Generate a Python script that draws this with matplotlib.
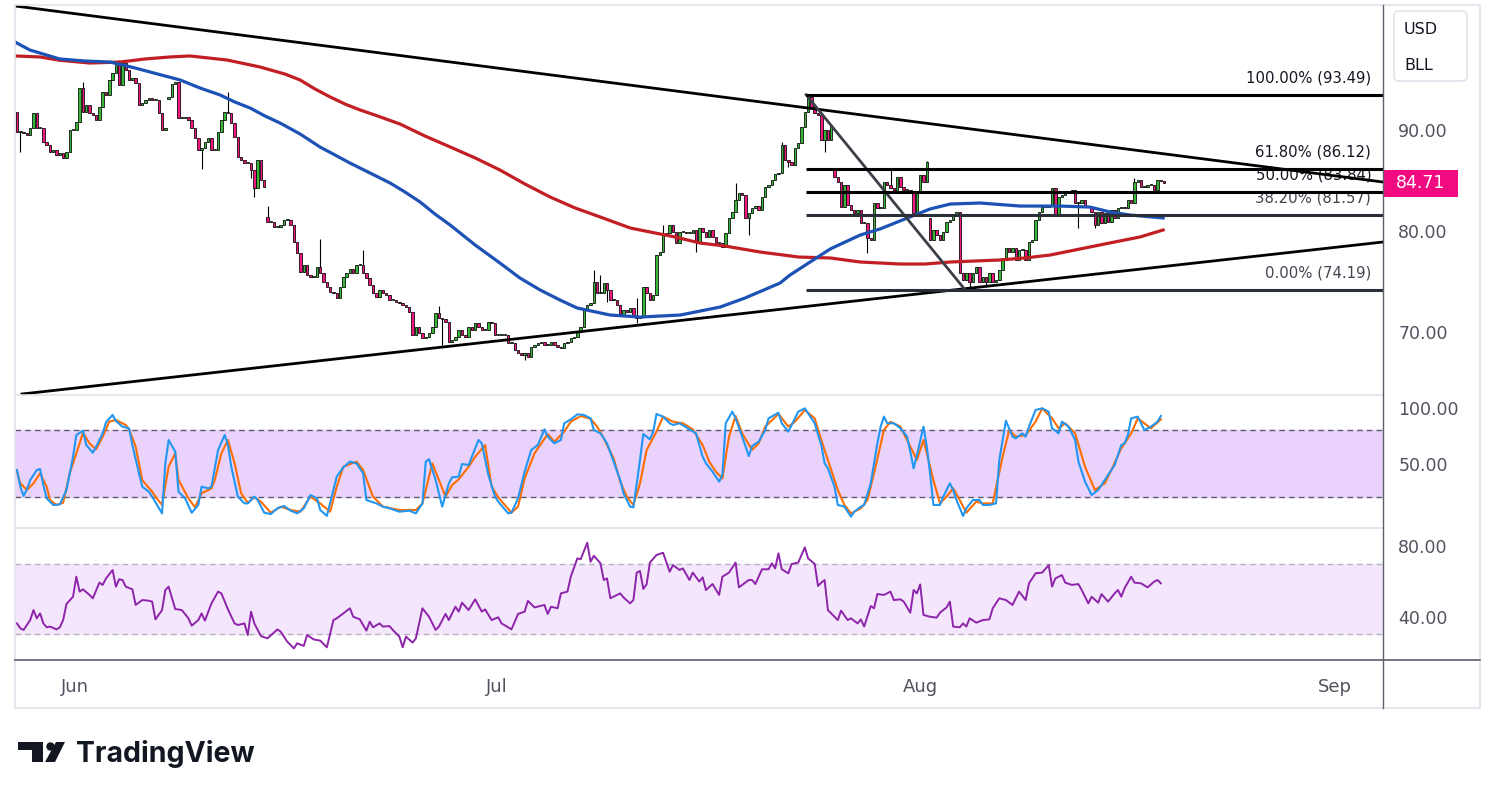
import matplotlib
matplotlib.use("Agg")
import matplotlib.pyplot as plt
import matplotlib.transforms as mtransforms
from matplotlib.patches import Rectangle, FancyBboxPatch, Polygon, Circle
import numpy as np

W, H = 1491, 799

# hourly closes (left to right)
closes = [
    89.80, 89.80, 89.70, 89.50, 90.20, 91.68, 90.20, 90.20, 88.81, 88.52,
    87.82, 88.02, 87.53, 87.72, 87.23, 87.82, 90.00, 90.00, 90.79, 94.16,
    91.78, 92.47, 91.68, 91.49, 90.99, 92.28, 93.76, 93.47, 94.95, 95.64,
    96.73, 94.46, 96.63, 95.94, 94.95, 95.15, 94.65, 92.47, 92.67, 92.97,
    93.17, 92.97, 92.97, 91.68, 90.00, 90.20, 93.27, 94.55, 94.75, 91.19,
    91.19, 91.29, 90.99, 90.20, 89.21, 88.02, 88.22, 88.81, 89.21, 88.02,
    88.02, 89.80, 90.99, 91.78, 91.68, 90.69, 89.31, 87.33, 87.03, 86.73,
    86.73, 86.04, 84.26, 87.03, 85.05, 84.36, 80.89, 80.89, 80.40, 80.40,
    80.60, 81.09, 81.09, 80.60, 78.91, 77.82, 75.94, 76.64, 75.65, 75.45,
    75.45, 76.44, 75.84, 74.95, 74.46, 73.96, 73.86, 73.37, 74.46, 75.45,
    75.84, 76.24, 75.84, 76.64, 76.64, 75.84, 75.35, 74.66, 73.86, 73.47,
    74.16, 73.86, 73.67, 73.17, 73.17, 72.97, 72.87, 72.68, 72.48, 71.99,
    69.71, 70.50, 69.90, 69.41, 69.51, 69.90, 70.50, 71.89, 71.39, 71.29,
    71.00, 69.01, 69.21, 69.51, 70.20, 69.71, 69.51, 70.50, 70.20, 70.89,
    70.50, 70.20, 70.20, 71.00, 70.89, 69.71, 69.71, 69.71, 69.71, 68.91,
    68.91, 68.22, 67.92, 67.73, 67.92, 67.53, 68.52, 68.72, 68.91, 69.01,
    68.72, 68.72, 69.01, 68.72, 68.52, 68.42, 68.91, 69.01, 69.41, 69.51,
    70.00, 70.50, 72.18, 72.68, 72.87, 74.95, 73.86, 73.86, 74.85, 74.16,
    73.17, 73.17, 72.68, 71.69, 72.18, 71.99, 72.38, 71.49, 71.39, 71.59,
    74.46, 73.86, 73.17, 73.67, 77.63, 77.92, 79.61, 79.80, 80.60, 79.90,
    78.81, 79.90, 79.90, 79.80, 79.80, 80.10, 78.91, 80.30, 79.90, 79.41,
    80.10, 79.41, 78.81, 78.81, 78.42, 79.80, 81.29, 81.88, 83.07, 83.76,
    83.57, 81.29, 81.78, 82.28, 82.48, 82.08, 83.37, 84.36, 84.56, 85.05,
    85.64, 85.74, 88.52, 87.03, 86.83, 86.54, 88.22, 88.71, 90.30, 91.78,
    93.27, 92.28, 91.68, 91.49, 89.01, 90.00, 89.01, 90.50, 85.35, 84.85,
    82.38, 84.56, 82.57, 82.08, 81.78, 82.08, 80.79, 80.79, 79.31, 79.11,
    82.77, 82.28, 82.28, 84.85, 84.56, 84.26, 83.86, 85.35, 84.36, 84.06,
    84.06, 83.86, 81.78, 83.76, 85.55, 84.85, 86.83, 79.11, 80.10, 79.61,
    79.11, 79.90, 80.89, 81.09, 81.59, 81.88, 75.84, 75.15, 75.84, 74.95,
    75.84, 76.44, 74.95, 75.45, 74.95, 75.84, 74.95, 75.15, 76.14, 77.33,
    78.32, 77.92, 78.32, 77.13, 78.12, 78.12, 77.13, 78.91, 79.11, 81.09,
    81.88, 82.38, 82.38, 82.57, 84.26, 81.59, 83.37, 83.57, 83.86, 83.86,
    84.06, 82.77, 82.77, 83.07, 82.38, 82.38, 81.88, 80.60, 81.88, 80.79,
    81.78, 80.89, 82.08, 81.29, 82.28, 82.38, 82.28, 83.07, 82.77, 84.85,
    85.05, 84.36, 84.36, 84.56, 84.56, 84.06, 85.05, 84.95, 84.71,
]
first_open = 91.78
gap_opens = {46: 93.07, 76: 81.39, 248: 86.04, 277: 81.29}
wick_highs = {20: 94.75, 31: 96.93, 64: 93.76, 76: 82.48, 92: 79.21, 105: 78.12,
              128: 72.58, 175: 76.14, 177: 75.65, 188: 73.37, 196: 80.60,
              218: 84.75, 232: 88.81, 240: 93.49, 265: 86.04, 276: 86.93,
              339: 85.25}
wick_lows = {1: 87.82, 56: 86.14, 71: 85.25, 72: 83.37, 129: 68.72, 154: 67.23,
             179: 72.97, 188: 70.89, 206: 77.92, 222: 79.61, 234: 86.34,
             245: 87.82, 250: 83.27, 258: 77.82, 289: 74.19, 294: 74.46,
             322: 80.30, 327: 80.30}

# moving averages (bar index, price)
blue_ma = [(-0.6, 98.71), (3.9, 97.92), (13, 97.03), (20.6, 96.83), (28.2, 96.73),
           (35.8, 96.14), (40.4, 95.74), (49.5, 94.95), (55.5, 94.16), (61.6, 93.47),
           (66.1, 92.77), (70.7, 92.18), (75.2, 91.39), (79.8, 90.69), (85.9, 89.60),
           (91.9, 88.32), (96.5, 87.52), (101, 86.73), (107.1, 85.74), (113.2, 84.75),
           (117.7, 83.86), (122.3, 82.87), (126.8, 81.68), (131.4, 80.59), (139, 78.61),
           (146.5, 76.83), (152.6, 75.34), (158.7, 74.16), (164.7, 73.17), (169.9, 72.38),
           (179.9, 71.68), (189, 71.48), (201.2, 71.68), (213.3, 72.47), (220.9, 73.37),
           (231.5, 74.85), (234.5, 75.64), (240.6, 76.93), (246.7, 78.22), (255.8, 79.60),
           (261.8, 80.20), (270.9, 81.39), (277, 82.18), (283.1, 82.67), (292.2, 82.77),
           (304.3, 82.47), (316.4, 82.47), (325.5, 82.37), (331.6, 81.88), (337.7, 81.58),
           (347.7, 81.29)]
red_ma = [(-0.6, 97.33), (7, 97.23), (13, 96.90), (22.1, 96.63), (31.3, 96.73),
          (38.8, 97.03), (46.4, 97.23), (52.5, 97.33), (63.7, 96.93), (73.7, 96.24),
          (81.3, 95.54), (85.9, 94.95), (90.4, 94.06), (95, 93.27), (99.5, 92.57),
          (104.1, 91.98), (108.6, 91.48), (116.2, 90.59), (123.8, 89.40), (131.4, 88.32),
          (139, 87.23), (146.5, 86.04), (154.1, 84.65), (161.7, 83.37), (169.3, 82.28),
          (176.9, 81.39), (186, 80.30), (192.1, 79.90), (199.6, 79.41), (207.2, 78.81),
          (214.8, 78.51), (225.4, 77.92), (237.2, 77.42), (246.7, 77.33), (255.8, 76.93),
          (267.9, 76.73), (275.5, 76.73), (283.1, 76.93), (290.7, 77.03), (298.2, 77.13),
          (305.8, 77.33), (313.4, 77.62), (322.5, 78.22), (331.6, 78.82), (340.7, 79.41),
          (347.7, 80.10)]

# stochastic %K / %D and RSI (bar index, value)
stoch_k = [(0, 44.3), (1, 29.5), (2, 21.2), (3, 27.1), (4, 35.4), (6, 44.3), (7, 45.2), (8, 31),
           (9, 19.1), (11, 13.2), (13, 13.7), (15, 26.5), (17, 56.2), (18, 75.5), (20, 79.4),
           (21, 66.6), (23, 59.8), (24, 65.1), (26, 77), (27, 86.8), (29, 93.4), (30, 88),
           (32, 83), (34, 81.5), (35, 66.6), (37, 41.4), (38, 29.5), (40, 25), (41, 20.6),
           (44, 5.7), (45, 50.3), (46, 71.1), (48, 60.7), (49, 25), (51, 19.1), (53, 6.3),
           (55, 13.2), (56, 29.5), (58, 28), (59, 29.5), (61, 62.2), (63, 75.5), (64, 66.6),
           (65, 47.3), (67, 20.6), (69, 14.6), (70, 14.6), (72, 20.6), (73, 17.6), (75, 6.3),
           (77, 5.1), (79, 10.2), (81, 12.3), (83, 8.1), (85, 5.7), (87, 10.2), (89, 22),
           (91, 19.1), (92, 8.7), (94, 3.4), (96, 26.5), (97, 38.4), (99, 46.7), (101, 51.8),
           (103, 50.3), (105, 41.4), (106, 17.6), (109, 14.6), (111, 11.7), (113, 10.2),
           (116, 7.2), (119, 8.1), (121, 5.7), (123, 14.6), (124, 51.8), (125, 53.9),
           (127, 35.4), (129, 11.7), (131, 32.5), (132, 37.8), (134, 38.4), (135, 49.7),
           (137, 48.8), (138, 56.2), (140, 71.1), (141, 68.1), (143, 39.9), (145, 20.6),
           (146, 16.1), (149, 5.7), (150, 6.3), (152, 19.1), (154, 42.9), (156, 62.2),
           (158, 66.6), (160, 80.6), (161, 74.1), (163, 68.1), (165, 71.1), (166, 86),
           (168, 89.5), (170, 94), (172, 93.4), (174, 90.4), (175, 80), (177, 77), (179, 68.1),
           (181, 51.8), (183, 35.4), (184, 23.6), (186, 11.7), (187, 11.1), (189, 53.3),
           (190, 76.4), (192, 71.7), (193, 78.5), (194, 94.3), (196, 91.9), (198, 86),
           (199, 84.5), (201, 86), (203, 82.4), (206, 77), (208, 56.2), (209, 50.3),
           (211, 42.9), (213, 34), (214, 39.9), (215, 86), (217, 96.3), (218, 90.4),
           (220, 74.1), (222, 56.8), (223, 65.7), (225, 69.6), (227, 80), (228, 90.4),
           (231, 95.4), (232, 86), (234, 78.5), (235, 84.5), (237, 96.3), (239, 99.3),
           (240, 94.9), (242, 86), (244, 66.6), (245, 50.3), (246, 45.8), (248, 29.5),
           (249, 13.2), (251, 11.7), (253, 2.8), (254, 7.2), (256, 11.7), (257, 13.2),
           (259, 32.5), (261, 68.1), (262, 83), (263, 91.9), (264, 86), (266, 86),
           (268, 81.5), (270, 74.1), (271, 60.7), (272, 45.8), (273, 57.7), (275, 83),
           (276, 65.1), (277, 41.4), (278, 13.2), (280, 13.2), (281, 20.6), (283, 32.5),
           (284, 26.5), (285, 17.6), (287, 3.4), (288, 10.2), (290, 17.6), (292, 17.6),
           (293, 13.2), (295, 13.2), (297, 14.6), (298, 53.3), (300, 88.3), (302, 74.1),
           (303, 72.6), (305, 77), (306, 74.1), (307, 83), (309, 97.8), (311, 99.3),
           (313, 96.3), (314, 81.5), (316, 77), (317, 87.4), (319, 83), (321, 71.1),
           (322, 51.8), (324, 34), (326, 22.1), (328, 26.5), (329, 31), (331, 39.9),
           (333, 48.8), (335, 66.6), (336, 68.1), (337, 75.5), (338, 90.4), (340, 91.9),
           (342, 80), (344, 83), (346, 87.4), (347, 92.5)]
stoch_d = [(0, 42.9), (1, 32.5), (3, 26.5), (5, 32.5), (7, 41.4), (9, 29.5), (10, 17.6),
           (12, 13.2), (14, 15.2), (16, 41.4), (19, 68.1), (20, 77.6), (22, 68.1), (24, 62.8),
           (26, 74.1), (28, 87.4), (30, 88.9), (33, 84.5), (34, 80.6), (36, 65.1), (38, 35.4),
           (41, 25), (42, 20.6), (44, 13.2), (46, 47.3), (48, 59.2), (49, 35.4), (52, 19.1),
           (54, 11.1), (56, 23.6), (59, 28), (60, 35.4), (62, 59.2), (64, 71.1), (66, 50.3),
           (68, 23.6), (70, 15.2), (72, 20), (74, 16.1), (77, 6.3), (80, 11.7), (83, 8.7),
           (86, 7.2), (89, 20.6), (92, 14.6), (95, 7.2), (97, 29.5), (99, 47.3), (103, 51.8),
           (105, 44.3), (108, 20.6), (111, 11.7), (116, 8.7), (121, 8.7), (123, 14.6),
           (126, 50.3), (128, 35.4), (130, 20.6), (132, 31), (134, 36), (137, 47.3),
           (139, 56.2), (142, 66.6), (144, 29.5), (146, 20), (150, 6.3), (152, 11.7),
           (154, 36.9), (157, 59.2), (161, 76.4), (163, 69.6), (166, 78.5), (168, 87.4),
           (171, 92.5), (174, 90), (176, 83), (178, 72.6), (181, 54.7), (183, 34), (185, 20.6),
           (187, 13.2), (189, 32.5), (191, 62.2), (194, 78.5), (196, 91.9), (199, 87.4),
           (202, 86), (205, 80.6), (208, 66.6), (210, 51.8), (212, 42.9), (214, 36.9),
           (216, 74.1), (218, 92.5), (220, 77), (223, 62.2), (225, 68.1), (227, 83),
           (231, 94.3), (234, 83), (236, 87.4), (239, 97.8), (242, 90.4), (244, 71.1),
           (246, 53.3), (249, 26.5), (251, 13.2), (253, 5.7), (256, 10.2), (258, 17.6),
           (260, 41.4), (263, 80), (265, 87.4), (268, 83), (270, 71.1), (273, 53.3),
           (275, 71.1), (278, 35.4), (280, 14.6), (282, 20.6), (284, 28), (286, 17.6),
           (288, 6.3), (291, 16.1), (293, 14.6), (296, 14.6), (299, 56.2), (301, 80),
           (303, 74.1), (306, 75.5), (309, 87.4), (311, 99.3), (314, 90.4), (316, 81.5),
           (318, 86), (321, 77), (324, 47.3), (327, 26.5), (330, 32.5), (332, 44.3),
           (335, 63.7), (338, 77), (340, 90.4), (344, 81.5), (347, 89.5)]
rsi = [(0, 36.2), (1, 33.4), (2, 32.5), (4, 38.1), (5, 43.8), (6, 39.1), (7, 41.9), (8, 36.2),
       (9, 34), (10, 34.4), (12, 32.8), (13, 34), (14, 38.1), (15, 47.2), (17, 51.4), (18, 62.8),
       (19, 54.3), (20, 55.6), (22, 52.4), (23, 50.5), (25, 59.4), (26, 58.1), (27, 61.8),
       (29, 66.6), (30, 57.1), (31, 61.3), (32, 60.9), (33, 57.1), (35, 55.6), (36, 46.7),
       (38, 49.5), (40, 49.1), (41, 48.6), (42, 38.5), (44, 43.8), (45, 55.2), (46, 57.1),
       (48, 44.4), (50, 43.8), (52, 39.1), (53, 34.9), (55, 38.1), (56, 41.9), (57, 37.8),
       (59, 47.6), (61, 54.3), (62, 53.3), (64, 44.2), (66, 36.2), (67, 35.3), (69, 36.2),
       (70, 29.6), (71, 42.9), (72, 36.2), (74, 29), (76, 27.7), (79, 32.8), (80, 31.5),
       (82, 25.8), (84, 22), (85, 24.9), (87, 23.4), (88, 29.6), (90, 27.1), (92, 26.4),
       (94, 22.6), (96, 38.1), (97, 39.1), (99, 41.9), (101, 44.8), (102, 40), (104, 38.5),
       (106, 32.1), (107, 37.2), (108, 34), (110, 36.2), (111, 34.4), (113, 34.7),
       (114, 32.5), (116, 28.7), (117, 22.6), (118, 28.7), (120, 25.3), (121, 27.7),
       (123, 44.8), (125, 40), (127, 32.5), (128, 34.4), (130, 41.6), (131, 38.1),
       (133, 45.7), (134, 42.9), (135, 48), (137, 43.8), (139, 49.9), (141, 42.9),
       (142, 44.2), (144, 38.1), (146, 39.7), (147, 36.2), (149, 34), (150, 32.8),
       (152, 41.6), (154, 42.9), (155, 49), (157, 45.3), (160, 46.7), (161, 41.6),
       (162, 45.7), (164, 44.8), (165, 53.3), (167, 54.3), (168, 62.8), (170, 73.2),
       (171, 72.7), (173, 82.1), (174, 71.3), (175, 74.7), (177, 70.4), (178, 60.9),
       (179, 61.8), (180, 50.5), (183, 53.3), (184, 51), (186, 47.6), (187, 49.5),
       (188, 65.1), (189, 66), (190, 55.8), (191, 58.4), (192, 70.8), (194, 75.1),
       (196, 76.4), (198, 65.6), (199, 69.4), (201, 66.6), (202, 67.5), (204, 60.9),
       (205, 65.1), (207, 60), (208, 62.4), (209, 55.2), (211, 58.6), (213, 52.4),
       (214, 62.8), (216, 65.1), (218, 70.8), (219, 56.7), (222, 60.9), (223, 60.9),
       (224, 58.6), (226, 67), (228, 67), (229, 70.4), (230, 67.5), (231, 76.1), (232, 67),
       (234, 64.7), (235, 70), (237, 70.8), (239, 79.5), (240, 73.2), (242, 70), (243, 57.5),
       (244, 59.4), (245, 60.9), (246, 43.8), (249, 38.1), (250, 43.5), (252, 38.1),
       (253, 39.1), (255, 36.2), (256, 38.5), (257, 34.4), (259, 46.1), (260, 44.8),
       (261, 52.9), (263, 52.4), (265, 54.3), (266, 49.5), (268, 49.9), (269, 48.6),
       (271, 42.3), (272, 55.2), (273, 53.3), (274, 58.4), (275, 41), (277, 40), (279, 39.5),
       (280, 42.3), (282, 45.3), (283, 48.6), (284, 34.4), (286, 34), (287, 36.2),
       (288, 34.4), (289, 39.1), (291, 36.6), (293, 38.1), (295, 38.5), (296, 44.8),
       (298, 50.5), (300, 49.5), (302, 46.7), (303, 50.5), (304, 54.3), (306, 49.5),
       (307, 59), (309, 64.7), (311, 65.1), (313, 69.4), (314, 57.1), (315, 61.8),
       (317, 63.7), (318, 59.4), (320, 58.1), (322, 58.6), (323, 55.2), (325, 47.6),
       (326, 51.4), (328, 48), (329, 52.9), (331, 48.6), (333, 53.3), (334, 55.2),
       (335, 51.4), (336, 56.2), (338, 62.8), (339, 59.4), (341, 59), (343, 56.7),
       (345, 60), (346, 60.9), (347, 59)]

# drawings
upper_trend = ([-0.6, 414.4], [102.28, 84.85])
lower_trend = ([1.5, 414.4], [63.86, 78.91])
fib_x0, fib_x_low = 239.4, 287.6
fib_levels = [("100.00%", 93.49), ("61.80%", 86.12), ("50.00%", 83.84),
              ("38.20%", 81.57), ("0.00%", 74.19)]
month_pos = [17.6, 145.6, 274.0, 399.9]
month_lbl = ["Jun", "Jul", "Aug", "Sep"]

X_LEFT, X_RIGHT = -0.607, 414.4
GREEN, PINK = "#36b536", "#f2177d"
TXT = "#50535e"


def box(l, t, r, b):
    return [l / W, 1 - b / H, (r - l) / W, (b - t) / H]


fig = plt.figure(figsize=(W / 100, H / 100), dpi=100)
fig.patch.set_facecolor("white")

ax_p = fig.add_axes(box(15, 5, 1383, 395))
ax_s = fig.add_axes(box(15, 395, 1383, 528), sharex=ax_p)
ax_r = fig.add_axes(box(15, 528, 1383, 660), sharex=ax_p)

for ax in (ax_p, ax_s, ax_r):
    for sp in ax.spines.values():
        sp.set_visible(False)
    ax.yaxis.tick_right()
    ax.tick_params(axis="y", length=0, pad=11, labelsize=12.5, labelcolor=TXT)
    ax.tick_params(axis="x", length=0)
ax_p.tick_params(axis="x", labelbottom=False)
ax_s.tick_params(axis="x", labelbottom=False)
ax_p.set_xlim(X_LEFT, X_RIGHT)

# ---- price panel
n = len(closes)
xs = np.arange(n)
opens = [first_open] + closes[:-1]
for i, v in gap_opens.items():
    opens[i] = v
highs = [max(o, c) for o, c in zip(opens, closes)]
lows = [min(o, c) for o, c in zip(opens, closes)]
for i, v in wick_highs.items():
    highs[i] = max(highs[i], v)
for i, v in wick_lows.items():
    lows[i] = min(lows[i], v)

ax_p.vlines(xs, lows, highs, color="black", lw=0.8, zorder=2)
bottoms = [min(o, c) for o, c in zip(opens, closes)]
heights = [max(abs(c - o), 0.07) for o, c in zip(opens, closes)]
cols = [GREEN if c >= o else PINK for o, c in zip(opens, closes)]
ax_p.bar(xs, heights, bottom=bottoms, width=0.74, color=cols,
         edgecolor="black", linewidth=0.55, zorder=3)

bx, bv = zip(*blue_ma)
rx, rv = zip(*red_ma)
ax_p.plot(rx, rv, color="#c21f24", lw=2.3, zorder=4, solid_joinstyle="round")
ax_p.plot(bx, bv, color="#1c52b5", lw=2.3, zorder=4, solid_joinstyle="round")

ax_p.plot(*upper_trend, color="black", lw=2.0, zorder=5)
ax_p.plot(*lower_trend, color="black", lw=2.0, zorder=5)

ax_p.plot([fib_x0, fib_x_low], [fib_levels[0][1], fib_levels[-1][1]],
          color="#3c3f48", lw=2.0, zorder=5)
for name, lvl in fib_levels:
    dark = name in ("38.20%", "0.00%")
    col = "#2a2e39" if dark else "black"
    ax_p.plot([fib_x0, X_RIGHT], [lvl, lvl], color=col, lw=2.2, zorder=5,
              solid_capstyle="butt")
    ax_p.annotate(f"{name} ({lvl:.2f})", xy=(410.8, lvl), xytext=(0, 17),
                  textcoords="offset pixels", ha="right", va="center",
                  fontsize=10.7, color="#434651" if dark else "#131722", zorder=1)

ax_p.set_ylim(63.762, 102.376)
ax_p.set_yticks([70, 80, 90])
ax_p.set_yticklabels([f"{v:.2f}" for v in (70, 80, 90)])

# last price tag
last = closes[-1]
tr = mtransforms.blended_transform_factory(ax_p.transAxes, ax_p.transData)
ax_p.add_patch(Rectangle((1.0, last - 1.34), 0.0548, 2.67, transform=tr,
                         facecolor="#f20a80", edgecolor="none", clip_on=False, zorder=6))
ax_p.text(1.0274, last, f"{last:.2f}", transform=tr, ha="center", va="center",
          color="white", fontsize=12.5, clip_on=False, zorder=7)

# ---- stochastic panel
ax_s.axhspan(20, 80, color="#e9d2fb", zorder=0)
for lv in (20, 80):
    ax_s.axhline(lv, color="#5d606b", lw=1.0, dashes=(4, 3), zorder=1)
kx, kv = zip(*stoch_k)
dx, dv = zip(*stoch_d)
ax_s.plot(kx, kv, color="#2196f3", lw=1.5, zorder=3)
ax_s.plot(dx, dv, color="#ff6d00", lw=1.5, zorder=2)
ax_s.set_ylim(-7.34, 111.2)
ax_s.set_yticks([50, 100])
ax_s.set_yticklabels(["50.00", "100.00"])

# ---- RSI panel
ax_r.axhspan(30, 70, color="#f4e7fd", zorder=0)
for lv in (30, 70):
    ax_r.axhline(lv, color="#b2b5be", lw=1.0, dashes=(4, 3), zorder=1)
rsx, rsv = zip(*rsi)
ax_r.plot(rsx, rsv, color="#8e24aa", lw=1.4, zorder=3)
ax_r.set_ylim(15.39, 90.48)
ax_r.set_yticks([40, 80])
ax_r.set_yticklabels(["40.00", "80.00"])
ax_r.set_xticks(month_pos)
ax_r.set_xticklabels(month_lbl)
ax_r.tick_params(axis="x", pad=13, labelsize=13, labelcolor=TXT)

# ---- frame, separators, badges, logo (pixel overlay)
ov = fig.add_axes([0, 0, 1, 1], zorder=10)
ov.set_xlim(0, W)
ov.set_ylim(H, 0)
ov.axis("off")
ov.add_patch(Rectangle((15, 5), 1465, 703, fill=False, edgecolor="#e0e3eb", lw=1.2))
ov.plot([15, 1383], [395, 395], color="#e0e3eb", lw=1.2)
ov.plot([15, 1383], [528, 528], color="#e0e3eb", lw=1.2)
ov.plot([15, 1480], [660, 660], color="#5d606b", lw=1.2)
ov.plot([1383, 1383], [5, 708], color="#5d606b", lw=1.0)

ov.add_patch(FancyBboxPatch((1394, 11), 73, 70, boxstyle="round,pad=0,rounding_size=5",
                            facecolor="white", edgecolor="#e0e3eb", lw=1.2))
ov.text(1404, 29, "USD", ha="left", va="center", fontsize=11.5, color="#131722")
ov.text(1404, 66, "BLL", ha="left", va="center", fontsize=11.5, color="#131722")

# TradingView logo
ov.add_patch(Polygon([(18, 742), (43, 742), (43, 762), (32, 762), (32, 750), (18, 750)],
                     closed=True, facecolor="#131722", edgecolor="none"))
ov.add_patch(Circle((50.5, 746.5), 4.2, facecolor="#131722", edgecolor="none"))
ov.add_patch(Polygon([(56, 742), (65, 742), (55, 762), (45, 762)], closed=True,
                     facecolor="#131722", edgecolor="none"))
ov.text(76, 762, "TradingView", ha="left", va="baseline", fontsize=20.5,
        fontweight="bold", family=["Inter", "DejaVu Sans"], color="#131722")

fig.savefig("out.png", dpi=100)
